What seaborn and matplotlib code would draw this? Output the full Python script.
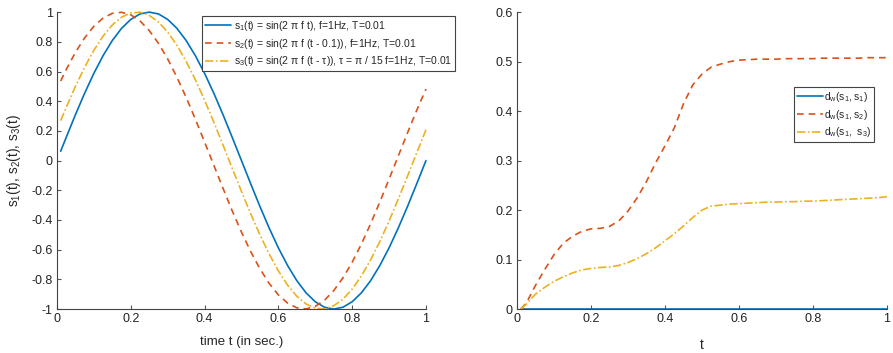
import matplotlib
matplotlib.use("Agg")
import matplotlib.pyplot as plt
import seaborn as sns
import pandas as pd
from matplotlib.ticker import FuncFormatter

# sample times (T = 0.01 start)
t = [0.01, 0.025, 0.05, 0.075, 0.1, 0.125, 0.15, 0.175, 0.2, 0.225,
     0.25, 0.275, 0.3, 0.325, 0.35, 0.375, 0.4, 0.425, 0.45, 0.475,
     0.5, 0.525, 0.55, 0.575, 0.6, 0.625, 0.65, 0.675, 0.7, 0.725,
     0.75, 0.775, 0.8, 0.825, 0.85, 0.875, 0.9, 0.925, 0.95, 0.975, 1.0]

s1 = [0.063, 0.156, 0.309, 0.454, 0.588, 0.707, 0.809, 0.891, 0.951, 0.988,
      1.0, 0.988, 0.951, 0.891, 0.809, 0.707, 0.588, 0.454, 0.309, 0.156,
      0.0, -0.156, -0.309, -0.454, -0.588, -0.707, -0.809, -0.891, -0.951, -0.988,
      -1.0, -0.988, -0.951, -0.891, -0.809, -0.707, -0.588, -0.454, -0.309, -0.156, 0.0]

s2 = [0.536, 0.613, 0.729, 0.827, 0.905, 0.960, 0.992, 0.999, 0.982, 0.941,
      0.876, 0.790, 0.685, 0.562, 0.426, 0.279, 0.125, -0.031, -0.187, -0.339,
      -0.482, -0.613, -0.729, -0.827, -0.905, -0.960, -0.992, -0.999, -0.982, -0.941,
      -0.876, -0.790, -0.685, -0.562, -0.426, -0.279, -0.125, 0.031, 0.187, 0.339, 0.482]

s3 = [0.269, 0.358, 0.500, 0.629, 0.743, 0.839, 0.914, 0.966, 0.995, 0.999,
      0.978, 0.934, 0.866, 0.777, 0.669, 0.545, 0.407, 0.259, 0.105, -0.052,
      -0.208, -0.358, -0.500, -0.629, -0.743, -0.839, -0.914, -0.966, -0.995, -0.999,
      -0.978, -0.934, -0.866, -0.777, -0.669, -0.545, -0.407, -0.259, -0.105, 0.052, 0.208]

dw11 = [0.0] * len(t)

dw12 = [0.0, 0.012, 0.048, 0.080, 0.110, 0.133, 0.147, 0.157, 0.162, 0.163,
        0.167, 0.178, 0.198, 0.225, 0.258, 0.296, 0.330, 0.366, 0.415, 0.453,
        0.475, 0.489, 0.495, 0.500, 0.503, 0.504, 0.505, 0.505, 0.505, 0.506,
        0.506, 0.506, 0.506, 0.507, 0.507, 0.507, 0.507, 0.507, 0.508, 0.508, 0.508]

dw13 = [0.0, 0.010, 0.030, 0.044, 0.056, 0.065, 0.073, 0.079, 0.082, 0.084,
        0.085, 0.088, 0.094, 0.102, 0.112, 0.124, 0.138, 0.152, 0.168, 0.185,
        0.200, 0.208, 0.210, 0.212, 0.213, 0.214, 0.215, 0.216, 0.216, 0.217,
        0.217, 0.218, 0.218, 0.219, 0.220, 0.221, 0.222, 0.223, 0.224, 0.225, 0.227]

left_labels = [
    r'$\mathregular{s_1}$(t) = sin(2 π f t), f=1Hz, T=0.01',
    r'$\mathregular{s_2}$(t) = sin(2 π f (t - 0.1)), f=1Hz, T=0.01',
    r'$\mathregular{s_3}$(t) = sin(2 π f (t - τ)), τ = π / 15 f=1Hz, T=0.01',
]
right_labels = [
    r'$\mathregular{d_w(s_1,s_1)}$',
    r'$\mathregular{d_w(s_1,s_2)}$',
    r'$\mathregular{d_w(s_1,\ s_3)}$',
]

BLUE, RED, YELLOW = '#0072BD', '#D95319', '#EDB120'
styles = [(BLUE, '-'), (RED, (0, (4, 3))), (YELLOW, (0, (5, 1.5, 1, 1.5)))]

sns.set_style('ticks')
plt.rcParams['font.family'] = ['Liberation Sans', 'DejaVu Sans']
plt.rcParams['axes.unicode_minus'] = False
plt.rcParams['xtick.direction'] = 'in'
plt.rcParams['ytick.direction'] = 'in'

fig = plt.figure(figsize=(8.93, 3.53), dpi=100)
ax1 = fig.add_axes([0.0638, 0.1246, 0.4132, 0.841])
ax2 = fig.add_axes([0.579, 0.1246, 0.4143, 0.841])

fmt = FuncFormatter(lambda v, p: '%g' % round(v, 3))

for ys, lab, (col, ls) in zip([s1, s2, s3], left_labels, styles):
    sns.lineplot(x=t, y=ys, ax=ax1, color=col, linestyle=ls, linewidth=1.2,
                 label=lab, clip_on=False)

for ys, lab, (col, ls) in zip([dw11, dw12, dw13], right_labels, styles):
    sns.lineplot(x=t, y=ys, ax=ax2, color=col, linestyle=ls, linewidth=1.2,
                 label=lab, clip_on=False)

ax1.set_xlim(0, 1)
ax1.set_ylim(-1, 1)
ax1.set_xticks([0, 0.2, 0.4, 0.6, 0.8, 1])
ax1.set_yticks([-1, -0.8, -0.6, -0.4, -0.2, 0, 0.2, 0.4, 0.6, 0.8, 1])
ax1.set_xlabel('time t (in sec.)', fontsize=9.5, labelpad=8)
ax1.set_ylabel(r'$\mathregular{s_1}$(t), $\mathregular{s_2}$(t), $\mathregular{s_3}$(t)',
               fontsize=9.8, labelpad=6)

ax2.set_xlim(0, 1)
ax2.set_ylim(0, 0.6)
ax2.set_xticks([0, 0.2, 0.4, 0.6, 0.8, 1])
ax2.set_yticks([0, 0.1, 0.2, 0.3, 0.4, 0.5, 0.6])
ax2.set_xlabel('t', fontsize=10, labelpad=9)
ax2.set_ylabel('')

for ax in (ax1, ax2):
    sns.despine(ax=ax)
    ax.xaxis.set_major_formatter(fmt)
    ax.yaxis.set_major_formatter(fmt)
    ax.tick_params(labelsize=9, length=3, width=0.8, color='#555555',
                   labelcolor='#222222', pad=3)
    for sp in ('left', 'bottom'):
        ax.spines[sp].set_color('#444444')
        ax.spines[sp].set_linewidth(0.8)

leg1 = ax1.legend(loc='upper left', bbox_to_anchor=(0.226, 0.955),
                  bbox_transform=fig.transFigure, fontsize=7.5, frameon=True,
                  fancybox=False, framealpha=1, edgecolor='#444444',
                  handlelength=2.5, handletextpad=0.3, labelspacing=0.35,
                  borderpad=0.3, borderaxespad=0)
leg1.get_frame().set_linewidth(0.8)

leg2 = ax2.legend(loc='upper left', bbox_to_anchor=(0.889, 0.754),
                  bbox_transform=fig.transFigure, fontsize=7.5, frameon=True,
                  fancybox=False, framealpha=1, edgecolor='#444444',
                  handlelength=2.5, handletextpad=0.1, labelspacing=0.35,
                  borderpad=0.3, borderaxespad=0)
leg2.get_frame().set_linewidth(0.8)

fig.savefig('out.png', dpi=100)
